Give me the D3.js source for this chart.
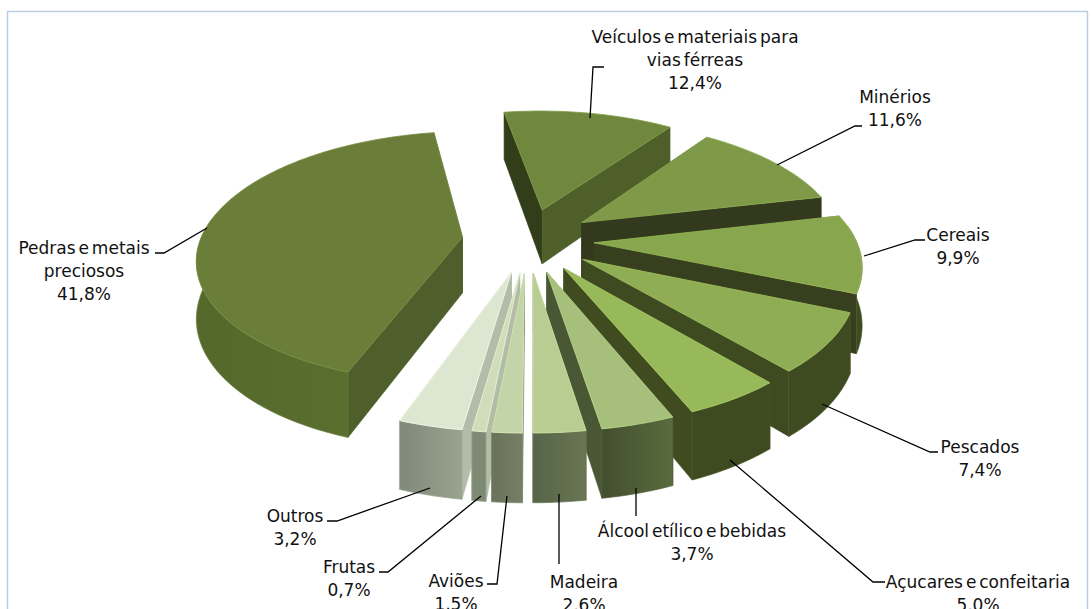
<!DOCTYPE html>
<html><head><meta charset="utf-8">
<style>html,body{margin:0;background:#fff;overflow:hidden}text{font-family:"DejaVu Sans";font-size:17px;fill:#111;word-spacing:-2.5px}</style>
<script src="https://cdn.jsdelivr.net/npm/d3@7"></script></head><body>
<svg id="c" width="1091" height="609"></svg>
<script>
const categories=["Veículos e materiais para vias férreas","Minérios","Cereais","Pescados","Açucares e confeitaria","Álcool etílico e bebidas","Madeira","Aviões","Frutas","Outros","Pedras e metais preciosos"];
const values=[12.4,11.6,9.9,7.4,5.0,3.7,2.6,1.5,0.7,3.2,41.8];
const topColors=["#70883e","#7e9a48","#87a64d","#8fad55","#98b95a","#a6c07c","#b9cc92","#c3d4a8","#cfddba","#dce6d0","#6a7d39"];
const startWall=["#323d1a","#33391c","#383f1e","#3e4a20","#404c20","#4a5735","#6a7551","#767f65","#b2bca8","#b2bca8","#4e5f2b"];
const endWall=["#4e5f2a","#33391c","#383f1e","#3e4a20","#404c20","#4a5735","#56654a","#767f65","#b2bca8","#b2bca8","#4e5f2b"];
const outerFrom=["#5a6e30","#5a6e30","#4a5a25","#3e4a20","#3e4a20","#5a6b3e","#6a7551","#767f65","#7f8a74","#9aa38e","#5a6e30"];
const outerTo=["#5a6e30","#4a5a25","#3e4a20","#3e4a20","#3e4a20","#424f30","#56654a","#6a735a","#7f8a74","#80897a","#56692d"];
const labelLines=[["Veículos e materiais para","vias férreas","12,4%"],["Minérios","11,6%"],["Cereais","9,9%"],["Pescados","7,4%"],["Açucares e confeitaria","5,0%"],["Álcool etílico e bebidas","3,7%"],["Madeira","2,6%"],["Aviões","1,5%"],["Frutas","0,7%"],["Outros","3,2%"],["Pedras e metais","preciosos","41,8%"]];
const labelCenter=[[695,43],[895,103],[958,241],[980,453],[978,588],[692,537],[584,588],[456,587],[349,573],[295,522],[84,254]];
const leaders=[[[590,118],[593,67],[604,67]],[[777,165],[855,126],[862,126]],[[864,256],[915,240],[925,240]],[[822,404],[930,452],[938,452]],[[730,460],[873,582],[885,582]],[[636,488],[636,516]],[[559,494],[559,564]],[[507,496],[497,584],[487,584]],[[481,496],[388,572],[379,572]],[[430,488],[337,521],[327,521]],[[207,228],[164,253],[155,253]]];

const R=270,Ru=262,Eu=66,Ev=70,H=56,cx=528,cy=240,persp=0.00058,tilt=0.456,rot=-9.5*Math.PI/180;
const P=(u,v,h)=>{const p=1/(1+persp*v);return [cx+u*p,cy-(tilt*v+h)*p];};
const svg=d3.select("#c");
svg.append("rect").attr("x",7.5).attr("y",11.5).attr("width",1080).attr("height",620).attr("fill","#fff").attr("stroke","#b9cde5").attr("stroke-width",1.5);
const defs=svg.append("defs");
const arcs=d3.pie().sort(null).startAngle(rot).endAngle(rot+2*Math.PI)(values);
const line=d3.line();
const slices=arcs.map((a,i)=>{const mid=(a.startAngle+a.endAngle)/2;return {a,i,mid,ou:Eu*Math.sin(mid),ov:Ev*Math.cos(mid)};}).sort((s,t)=>t.ov-s.ov);
const g=svg.append("g");
slices.forEach(s=>{
 const {a,i,ou,ov}=s;
 const pt=(th,r,h)=>P(ou+r*(Ru/R)*Math.sin(th),ov+r*Math.cos(th),h);
 const n=Math.max(4,Math.ceil((a.endAngle-a.startAngle)/(Math.PI/180)));
 const ang=d3.scaleLinear().domain([0,n]).range([a.startAngle,a.endAngle]);
 const cell=g.append("g");
 const walls=[{th:a.startAngle,c:startWall[i]},{th:a.endAngle,c:endWall[i]}].sort((p,q)=>Math.cos(q.th)-Math.cos(p.th));
 walls.forEach(w=>{const pts=[pt(w.th,0,0),pt(w.th,R,0),pt(w.th,R,-H),pt(w.th,0,-H)];
  cell.append("path").attr("d",line(pts)+"Z").attr("fill",w.c).attr("stroke",w.c).attr("stroke-width",.6).attr("stroke-linejoin","round");});
 const front=d3.range(n+1).map(ang).filter(t=>Math.cos(t)<0.15);
 if(front.length>1){
  const upper=front.map(t=>pt(t,R,0)),lower=front.map(t=>pt(t,R,-H)).reverse();
  const xs=upper.map(p=>p[0]);
  const id="w"+i;
  const lg=defs.append("linearGradient").attr("id",id).attr("gradientUnits","userSpaceOnUse")
   .attr("x1",xs[0]).attr("x2",xs[xs.length-1]).attr("y1",0).attr("y2",0);
  lg.append("stop").attr("offset",0).attr("stop-color",outerFrom[i]);
  lg.append("stop").attr("offset",1).attr("stop-color",outerTo[i]);
  cell.append("path").attr("d",line([...upper,...lower])+"Z").attr("fill",`url(#${id})`).attr("stroke",d3.color(outerTo[i]).brighter(.5)).attr("stroke-width",.7).attr("stroke-linejoin","round");
 }
 const top=[pt(a.startAngle,0,0),...d3.range(n+1).map(k=>pt(ang(k),R,0))];
 cell.append("path").attr("d",line(top)+"Z").attr("fill",topColors[i]).attr("stroke",d3.color(topColors[i]).brighter(.35)).attr("stroke-width",.8).attr("stroke-linejoin","round");
});
categories.forEach((c,i)=>{
 svg.append("path").attr("d",line(leaders[i])).attr("fill","none").attr("stroke","#000").attr("stroke-width",1.3);
 const L=labelLines[i],[x,y]=labelCenter[i];
 const t=svg.append("text").attr("text-anchor","middle");
 L.forEach((s,k)=>t.append("tspan").attr("x",x).attr("y",y+k*23).text(s));
});
</script></body></html>
